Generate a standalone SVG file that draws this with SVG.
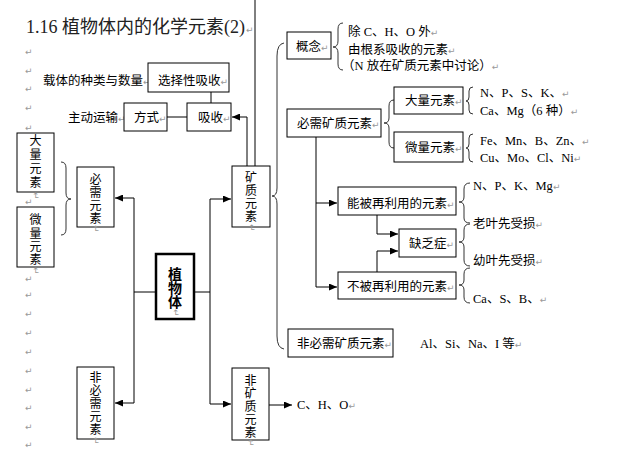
<svg xmlns="http://www.w3.org/2000/svg" width="622" height="457" viewBox="0 0 622 457">
<style>
.b{fill:#fff;stroke:#000;stroke-width:1}
.bb{fill:#fff;stroke:#000;stroke-width:2.5}
.t{font-family:"Liberation Serif","Noto Sans CJK SC",serif;font-size:12.5px;fill:#000}
.v{font-family:"Liberation Serif","Noto Sans CJK SC",serif;font-size:12px;fill:#000;text-anchor:middle}
.title{font-family:"Liberation Serif","Noto Sans CJK SC",serif;font-size:18px;fill:#222}
.pm{font-family:"DejaVu Sans",sans-serif;font-size:9px;fill:#999}
.c{fill:none;stroke:#000;stroke-width:1}
.br{fill:none;stroke:#333;stroke-width:1}
</style>
<defs>
<marker id="ah" markerUnits="userSpaceOnUse" markerWidth="9" markerHeight="7" refX="8" refY="3.5" orient="auto">
<path d="M0,0 L8,3.5 L0,7 z" fill="#000"/>
</marker>
</defs>
<rect width="622" height="457" fill="#fff"/>

<text class="title" x="26" y="33">1.16 植物体内的化学元素(2)<tspan class="pm" dx="1">↵</tspan></text>

<g id="para-marks" class="pm">
<text x="25" y="55">↵</text><text x="25" y="74">↵</text><text x="25" y="92">↵</text><text x="25" y="111">↵</text><text x="25" y="131">↵</text>
<text x="25" y="205">↵</text><text x="25" y="282">↵</text><text x="25" y="298">↵</text><text x="25" y="317">↵</text>
<text x="25" y="336">↵</text><text x="25" y="355">↵</text><text x="25" y="374">↵</text><text x="25" y="393">↵</text>
<text x="25" y="411">↵</text><text x="25" y="430">↵</text><text x="25" y="448">↵</text>
</g>

<g id="connectors">
<line class="c" x1="255" y1="0" x2="255" y2="166"/>
<line class="c" x1="211" y1="92" x2="211" y2="103"/>
<line class="c" x1="167" y1="117" x2="187" y2="117"/>
<path class="c" d="M247,166 V117 H232" marker-end="url(#ah)"/>
<path class="c" d="M156,292 H134"/>
<path class="c" d="M134,198 V403"/>
<path class="c" d="M134,198 H115" marker-end="url(#ah)"/>
<path class="c" d="M134,403 H115" marker-end="url(#ah)"/>
<path class="c" d="M194,292 H210"/>
<path class="c" d="M210,199 V404"/>
<path class="c" d="M210,199 H231" marker-end="url(#ah)"/>
<path class="c" d="M210,404 H231" marker-end="url(#ah)"/>
<path class="c" d="M269,405 H292" marker-end="url(#ah)"/>
<path class="c" d="M316,137 V287"/>
<path class="c" d="M316,203 H337" marker-end="url(#ah)"/>
<path class="c" d="M316,287 H337" marker-end="url(#ah)"/>
<path class="c" d="M377,215 V234 H398" marker-end="url(#ah)"/>
<path class="c" d="M377,272 V251 H398" marker-end="url(#ah)"/>
</g>

<g id="braces">
<path class="br" d="M61,162 Q66,162 66,168 L66,193 Q66,199 71,199 Q66,199 66,205 L66,229 Q66,235 61,235"/>
<path class="br" d="M284,43 Q277,44 277,56 L277,188 Q277,196 272,196 Q277,196 277,204 L277,336 Q277,348 284,349"/>
<path class="br" d="M343,23 Q338,23 338,29 L338,41 Q338,47 333,47 Q338,47 338,53 L338,64 Q338,70 343,70"/>
<path class="br" d="M394,100 Q389,100 389,106 L389,118 Q389,123 384,123 Q389,123 389,128 L389,142 Q389,148 394,148"/>
<path class="br" d="M473,87 Q469,87 469,91 L469,97 Q469,101 466,101 Q469,101 469,105 L469,110 Q469,114 473,114"/>
<path class="br" d="M473,134 Q469,134 469,138 L469,144 Q469,148 466,148 Q469,148 469,152 L469,158 Q469,162 473,162"/>
<path class="br" d="M470,183 Q464,183 464,189 L464,197 Q464,202 459,202 Q464,202 464,207 L464,218 Q464,223 470,223"/>
<path class="br" d="M470,224 Q464,224 464,230 L464,237 Q464,242 459,242 Q464,242 464,247 L464,260 Q464,266 470,266"/>
<path class="br" d="M470,268 Q464,268 464,274 L464,280 Q464,285 459,285 Q464,285 464,290 L464,297 Q464,303 470,303"/>
</g>

<g id="n-zaiti"><text class="t" x="43" y="85">载体的种类与数量<tspan class="pm">↵</tspan></text></g>
<g id="n-xuanze"><rect class="b" x="148" y="63" width="81" height="29"/><text class="t" x="158" y="85">选择性吸收<tspan class="pm">↵</tspan></text></g>
<g id="n-zhudong"><text class="t" x="68" y="122">主动运输<tspan class="pm">↵</tspan></text></g>
<g id="n-fangshi"><rect class="b" x="124" y="103" width="43" height="28"/><text class="t" x="134" y="122">方式<tspan class="pm">↵</tspan></text></g>
<g id="n-xishou"><rect class="b" x="187" y="103" width="44" height="28"/><text class="t" x="198" y="122">吸收<tspan class="pm">↵</tspan></text></g>

<g id="n-daliang-v"><rect class="b" x="17" y="133" width="37" height="59"/>
<text class="v"><tspan x="35.5" y="145">大</tspan><tspan x="35.5" y="159">量</tspan><tspan x="35.5" y="173">元</tspan><tspan x="35.5" y="187">素</tspan></text>
<text class="pm" transform="translate(33,192) rotate(90)">↵</text></g>
<g id="n-weiliang-v"><rect class="b" x="17" y="207" width="37" height="60"/>
<text class="v"><tspan x="35.5" y="224">微</tspan><tspan x="35.5" y="238">量</tspan><tspan x="35.5" y="251">元</tspan><tspan x="35.5" y="264">素</tspan></text>
<text class="pm" transform="translate(33,267) rotate(90)">↵</text></g>
<g id="n-bixu"><rect class="b" x="77" y="167" width="37" height="60"/>
<text class="v"><tspan x="95.5" y="184">必</tspan><tspan x="95.5" y="197">需</tspan><tspan x="95.5" y="210">元</tspan><tspan x="95.5" y="223">素</tspan></text>
<text class="pm" transform="translate(93,225) rotate(90)">↵</text></g>
<g id="n-feibixu"><rect class="b" x="77" y="367" width="37" height="72"/>
<text class="v"><tspan x="95.5" y="382">非</tspan><tspan x="95.5" y="395">必</tspan><tspan x="95.5" y="408">需</tspan><tspan x="95.5" y="421">元</tspan><tspan x="95.5" y="434">素</tspan></text>
<text class="pm" transform="translate(93,437) rotate(90)">↵</text></g>
<g id="n-zhiwuti"><rect class="bb" x="156" y="254" width="38" height="65"/>
<text class="v" style="font-weight:bold;font-size:14px"><tspan x="175" y="279">植</tspan><tspan x="175" y="293">物</tspan><tspan x="175" y="307">体</tspan></text>
<text class="pm" transform="translate(173,309) rotate(90)">↵</text></g>
<g id="n-kuangzhi"><rect class="b" x="232" y="166" width="38" height="61"/>
<text class="v"><tspan x="251" y="182">矿</tspan><tspan x="251" y="195">质</tspan><tspan x="251" y="208">元</tspan><tspan x="251" y="221">素</tspan></text>
<text class="pm" transform="translate(249,224) rotate(90)">↵</text></g>
<g id="n-feikuangzhi"><rect class="b" x="232" y="368" width="37" height="72"/>
<text class="v"><tspan x="250.5" y="385">非</tspan><tspan x="250.5" y="398">矿</tspan><tspan x="250.5" y="411">质</tspan><tspan x="250.5" y="424">元</tspan><tspan x="250.5" y="437">素</tspan></text>
<text class="pm" transform="translate(248,439) rotate(90)">↵</text></g>
<g id="n-cho"><text class="t" x="297" y="409">C、H、O<tspan class="pm">↵</tspan></text></g>

<g id="n-gainian"><rect class="b" x="287" y="32" width="44" height="27"/><text class="t" x="296" y="51">概念<tspan class="pm">↵</tspan></text></g>
<g id="n-gainian-def">
<text class="t" x="348" y="36">除 C、H、O 外<tspan class="pm">↵</tspan></text>
<text class="t" x="348" y="54">由根系吸收的元素<tspan class="pm">↵</tspan></text>
<text class="t" x="342" y="70">（N 放在矿质元素中讨论）<tspan class="pm">↵</tspan></text>
</g>
<g id="n-bixukuangzhi"><rect class="b" x="287" y="109" width="94" height="28"/><text class="t" x="297" y="128">必需矿质元素<tspan class="pm">↵</tspan></text></g>
<g id="n-daliang"><rect class="b" x="394" y="87" width="69" height="27"/><text class="t" x="405" y="105">大量元素<tspan class="pm">↵</tspan></text></g>
<g id="n-weiliang"><rect class="b" x="394" y="132" width="69" height="30"/><text class="t" x="405" y="152">微量元素<tspan class="pm">↵</tspan></text></g>
<g id="n-daliang-list">
<text class="t" x="480" y="97">N、P、S、K、<tspan class="pm">↵</tspan></text>
<text class="t" x="480" y="115">Ca、Mg（6 种）<tspan class="pm">↵</tspan></text>
</g>
<g id="n-weiliang-list">
<text class="t" x="480" y="145">Fe、Mn、B、Zn、<tspan class="pm">↵</tspan></text>
<text class="t" x="480" y="162">Cu、Mo、Cl、Ni<tspan class="pm">↵</tspan></text>
</g>
<g id="n-nengbei"><rect class="b" x="338" y="187" width="118" height="28"/><text class="t" x="347" y="208">能被再利用的元素<tspan class="pm">↵</tspan></text></g>
<g id="n-quefa"><rect class="b" x="399" y="229" width="57" height="28"/><text class="t" x="409" y="248">缺乏症<tspan class="pm">↵</tspan></text></g>
<g id="n-bubei"><rect class="b" x="338" y="272" width="118" height="27"/><text class="t" x="347" y="291">不被再利用的元素<tspan class="pm">↵</tspan></text></g>
<g id="n-reuse-list">
<text class="t" x="473" y="190">N、P、K、Mg<tspan class="pm">↵</tspan></text>
<text class="t" x="473" y="228">老叶先受损<tspan class="pm">↵</tspan></text>
<text class="t" x="473" y="265">幼叶先受损<tspan class="pm">↵</tspan></text>
<text class="t" x="473" y="303">Ca、S、B、<tspan class="pm">↵</tspan></text>
</g>
<g id="n-feibixukuangzhi"><rect class="b" x="288" y="329" width="105" height="28"/><text class="t" x="297" y="348">非必需矿质元素<tspan class="pm">↵</tspan></text></g>
<g id="n-other"><text class="t" x="420" y="348">Al、Si、Na、I 等<tspan class="pm">↵</tspan></text></g>
</svg>
